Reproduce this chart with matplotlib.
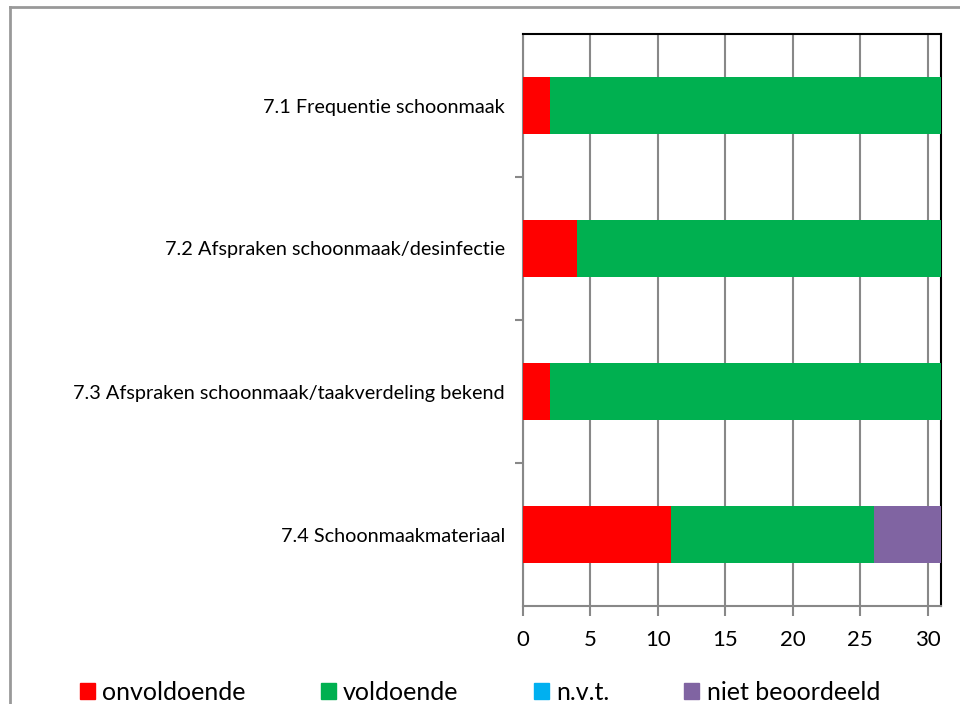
import numpy as np
import matplotlib
matplotlib.use('Agg')
import matplotlib.pyplot as plt
from matplotlib.lines import Line2D

plt.rcParams['font.family'] = ['Lato', 'DejaVu Sans']

# data
categorieen = ['7.1 Frequentie schoonmaak',
               '7.2 Afspraken schoonmaak/desinfectie',
               '7.3 Afspraken schoonmaak/taakverdeling bekend',
               '7.4 Schoonmaakmateriaal']
onvoldoende = [2, 4, 2, 11]
voldoende = [29, 27, 29, 15]
nvt = [0, 0, 0, 0]
niet_beoordeeld = [0, 0, 0, 5]

reeksen = ['onvoldoende', 'voldoende', 'n.v.t.', 'niet beoordeeld']
kleuren = ['#FF0000', '#00B050', '#00B0F0', '#8064A2']

fig = plt.figure(figsize=(9.6, 7.04), dpi=100)
ax = fig.add_axes([523/960, 1-606/704, 418/960, 572/704])

y = np.arange(len(categorieen))
links = np.zeros(len(categorieen))
for naam, waarden, kleur in zip(reeksen, [onvoldoende, voldoende, nvt, niet_beoordeeld], kleuren):
    ax.barh(y, waarden, left=links, height=0.4, color=kleur, label=naam, zorder=3)
    links = links + np.array(waarden)

ax.set_xlim(0, 31)
ax.set_ylim(3.5, -0.5)
ax.set_xticks(np.arange(0, 31, 5))
ax.set_yticks(y)
ax.set_yticklabels(categorieen, fontsize=14.3)
ax.set_yticks(np.arange(0.5, 3, 1), minor=True)
ax.tick_params(axis='y', which='major', length=0, pad=13)
ax.tick_params(axis='y', which='minor', length=6, color='#888888', width=1.5)
ax.tick_params(axis='x', length=7, color='#888888', width=1.5, labelsize=16, pad=10)
ax.xaxis.grid(True, color='#888888', linewidth=1.5, zorder=0)

for kant in ['left', 'bottom']:
    ax.spines[kant].set_color('#888888')
    ax.spines[kant].set_linewidth(1.5)
for kant in ['top', 'right']:
    ax.spines[kant].set_color('black')
    ax.spines[kant].set_linewidth(1.5)

# legenda onderaan
handles = [plt.Rectangle((0, 0), 1, 1, color=k) for k in kleuren]
fig.legend(handles, reeksen, loc='center', bbox_to_anchor=(0.5, 1-692/704), ncol=4,
           frameon=False, fontsize=18, handlelength=0.6, handleheight=0.6,
           handletextpad=0.3, columnspacing=3.0)

# grijze rand van de figuur
fig.add_artist(Line2D([9.5/960, 9.5/960], [0, 1-7/704], color='#999999', lw=2))
fig.add_artist(Line2D([9.5/960, 1], [1-7/704, 1-7/704], color='#999999', lw=2))

fig.savefig('out.png', dpi=100)
